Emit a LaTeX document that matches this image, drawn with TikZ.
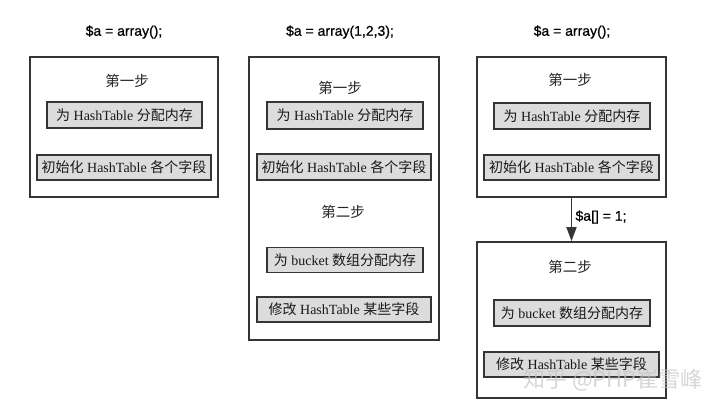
\documentclass[tikz,border=0pt]{standalone}
\usepackage{fontspec}
\setmainfont{Liberation Serif}
\newfontfamily\cjk{Noto Sans CJK SC}
\newfontfamily\titlefont[FakeBold=0.6]{Liberation Sans}
\usetikzlibrary{arrows.meta}
\definecolor{edge}{HTML}{353535}
\definecolor{cellfill}{HTML}{DCDCDC}
\tikzset{
  outerbox/.style={draw=edge, line width=1.8pt, fill=white, inner sep=0pt},
  cellbox/.style={draw=edge, line width=1.8pt, fill=cellfill, inner sep=0pt,
    font=\fontsize{14}{17}\selectfont, text=black!90},
  steplabel/.style={font=\fontsize{14.5}{17}\selectfont\cjk, text=black!85},
  codelabel/.style={font=\fontsize{14}{17}\selectfont\titlefont, text=black},
  flow/.style={draw=edge, line width=1.8pt, -{Triangle[length=14pt,width=10pt]}},
}
\begin{document}
\begin{tikzpicture}[x=1pt,y=-1pt]
\useasboundingbox (0,0) rectangle (720,408);
% ---------- column 1 ----------
\node[codelabel] (t1) at (124,32) {\$a = array();};
\node[outerbox, minimum width=188pt, minimum height=140pt] (o1) at (124,127) {};
\node[steplabel] (s1a) at (127,81) {第一步};
\node[cellbox, minimum width=155pt, minimum height=26pt] (a1) at (124.5,115) {{\cjk 为} HashTable {\cjk 分配内存}};
\node[cellbox, minimum width=174pt, minimum height=25pt] (b1) at (124,167.5) {{\cjk 初始化} HashTable {\cjk 各个字段}};
% ---------- column 2 ----------
\node[codelabel] (t2) at (340,32) {\$a = array(1,2,3);};
\node[outerbox, minimum width=190pt, minimum height=283pt] (o2) at (344,198.5) {};
\node[steplabel] (s2a) at (340,88) {第一步};
\node[cellbox, minimum width=156pt, minimum height=27pt] (a2) at (345,115.5) {{\cjk 为} HashTable {\cjk 分配内存}};
\node[cellbox, minimum width=174pt, minimum height=26pt] (b2) at (344,167) {{\cjk 初始化} HashTable {\cjk 各个字段}};
\node[steplabel] (s2b) at (343,212) {第二步};
\node[cellbox, minimum width=156pt, minimum height=25pt] (c2) at (345,260) {{\cjk 为} bucket {\cjk 数组分配内存}};
\node[cellbox, minimum width=174pt, minimum height=25pt] (d2) at (344,309.5) {{\cjk 修改} HashTable {\cjk 某些字段}};
% ---------- column 3 ----------
\node[codelabel] (t3) at (572,32) {\$a = array();};
\node[outerbox, minimum width=189pt, minimum height=140pt] (o3) at (571.5,127) {};
\node[steplabel] (s3a) at (570,80) {第一步};
\node[cellbox, minimum width=156pt, minimum height=26pt] (a3) at (572,116) {{\cjk 为} HashTable {\cjk 分配内存}};
\node[cellbox, minimum width=175pt, minimum height=25pt] (b3) at (571.5,167.5) {{\cjk 初始化} HashTable {\cjk 各个字段}};
\node[outerbox, minimum width=189pt, minimum height=156pt] (o4) at (571.5,320) {};
\node[steplabel] (s3b) at (570,267) {第二步};
\node[cellbox, minimum width=156pt, minimum height=26pt] (c3) at (572,313) {{\cjk 为} bucket {\cjk 数组分配内存}};
\node[cellbox, minimum width=175pt, minimum height=25pt] (d3) at (571.5,364.5) {{\cjk 修改} HashTable {\cjk 某些字段}};
\draw[flow] (o3.south) -- (o4.north);
\node[codelabel] (lab) at (601,217) {\$a[] = 1;};
% ---------- watermark ----------
\node[font=\fontsize{22}{26}\selectfont\cjk, text=gray!45, opacity=0.7] (wm) at (613,380) {知乎 @PHP崔雪峰};
\end{tikzpicture}
\end{document}
